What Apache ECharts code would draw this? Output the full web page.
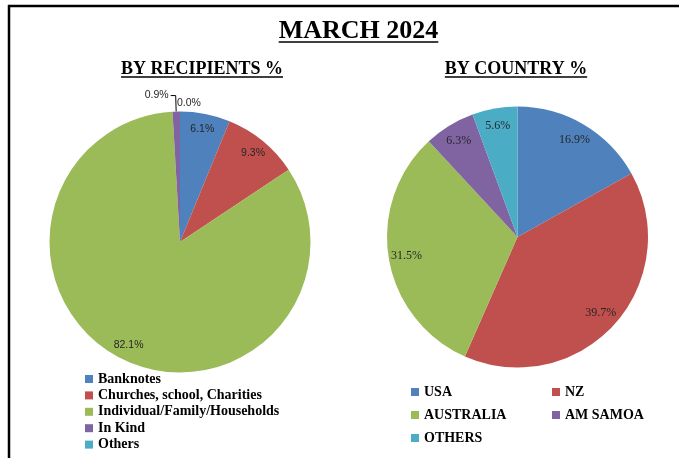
<!DOCTYPE html>
<html>
<head>
<meta charset="utf-8">
<script src="https://cdn.jsdelivr.net/npm/echarts@6/dist/echarts.min.js"></script>
<style>
  html, body { margin: 0; padding: 0; background: #fff; }
  #main { width: 679px; height: 458px; }
</style>
</head>
<body>
<div id="main"></div>
<script>
  // data
  const recipientNames = ['Banknotes', 'Churches, school, Charities', 'Individual/Family/Households', 'In Kind', 'Others'];
  const recipientValues = [6.1, 9.3, 82.1, 0.9, 0.0];
  const countryNames = ['USA', 'NZ', 'AUSTRALIA', 'AM SAMOA', 'OTHERS'];
  const countryValues = [16.9, 39.7, 31.5, 6.3, 5.6];
  const sliceColors = ['#4F81BD', '#C0504D', '#9BBB59', '#8064A2', '#4BACC6'];

  const serif = '"Liberation Serif", "DejaVu Serif", serif';
  const sans = '"Liberation Sans", Arial, sans-serif';

  // measure text width so underline fits the heading
  const measureCtx = document.createElement('canvas').getContext('2d');
  function textWidth (txt, size) {
    measureCtx.font = 'bold ' + size + 'px ' + serif;
    return measureCtx.measureText(txt).width;
  }

  function heading (txt, cx, baseY, size, lineY) {
    let w = textWidth(txt, size);
    return [{
      type: 'text',
      left: cx - w / 2,
      top: baseY - size * 0.75,
      style: { text: txt, font: 'bold ' + size + 'px ' + serif, fill: '#000' }
    }, {
      type: 'line',
      shape: { x1: cx - w / 2, y1: lineY, x2: cx + w / 2, y2: lineY },
      style: { stroke: '#000', lineWidth: 1.5 }
    }];
  }

  let pieR = 130.5;
  let leftCenter = [180, 242];
  let rightCenter = [517.5, 237];

  function pieData (names, values) {
    return names.map(function (n, i) {
      return { name: n, value: values[i], itemStyle: { color: sliceColors[i] } };
    });
  }

  // label ring (transparent) so inside labels sit near the rim
  function labelRing (names, values, center, inner, family, size, smallOutside) {
    return {
      type: 'pie',
      center: center,
      radius: [pieR * inner, pieR],
      startAngle: 90,
      silent: true,
      avoidLabelOverlap: false,
      emphasis: { disabled: true },
      itemStyle: { color: 'rgba(0,0,0,0)' },
      labelLine: { show: false },
      label: {
        show: true,
        position: 'inside',
        fontFamily: family,
        fontSize: size,
        color: '#262626',
        formatter: function (p) { return values[p.dataIndex].toFixed(1) + '%'; }
      },
      // zero slice label sits to the right of the leader line
      labelLayout: function (p) {
        if (smallOutside && values[p.dataIndex] === 0) {
          return { dx: 25, dy: -2 };
        }
      },
      data: names.map(function (n, i) {
        // zero slices get a hair of angle so their label is still laid out
        let item = { name: 'lbl-' + n, value: values[i] > 0 ? values[i] : 0.01 };
        if (smallOutside && values[i] < 2) {
          item.label = { position: 'outside', distanceToLabelLine: 2 };
          if (values[i] > 0) {
            item.labelLine = { show: true, length: 16, length2: 5, lineStyle: { color: '#000', width: 1 } };
          } else {
            item.labelLine = { show: false, length: 6, length2: 2 };
          }
        }
        return item;
      })
    };
  }

  let legendText = { fontFamily: serif, fontWeight: 'bold', fontSize: 14, color: '#000' };

  let chart = echarts.init(document.getElementById('main'));
  chart.setOption({
    animation: false,
    backgroundColor: '#fff',
    graphic: [
      { type: 'line', shape: { x1: 8, y1: 6, x2: 679, y2: 6 }, style: { stroke: '#000', lineWidth: 2.5 } },
      { type: 'line', shape: { x1: 9, y1: 5, x2: 9, y2: 458 }, style: { stroke: '#000', lineWidth: 2.5 } }
    ]
      .concat(heading('MARCH 2024', 358.5, 38, 26, 42))
      .concat(heading('BY RECIPIENTS %', 202, 74, 18, 77))
      .concat(heading('BY COUNTRY %', 516, 74, 18, 77)),
    legend: [{
      orient: 'vertical',
      left: 85,
      top: 372,
      padding: 0,
      itemWidth: 8,
      itemHeight: 8,
      itemGap: 2.4,
      icon: 'rect',
      selectedMode: false,
      textStyle: legendText,
      data: recipientNames
    }, {
      orient: 'vertical',
      left: 411,
      top: 385,
      padding: 0,
      itemWidth: 8,
      itemHeight: 8,
      itemGap: 9,
      icon: 'rect',
      selectedMode: false,
      textStyle: legendText,
      data: [countryNames[0], countryNames[2], countryNames[4]]
    }, {
      orient: 'vertical',
      left: 552,
      top: 385,
      padding: 0,
      itemWidth: 8,
      itemHeight: 8,
      itemGap: 9,
      icon: 'rect',
      selectedMode: false,
      textStyle: legendText,
      data: [countryNames[1], countryNames[3]]
    }],
    series: [{
      name: 'recipients',
      type: 'pie',
      center: leftCenter,
      radius: pieR,
      startAngle: 90,
      label: { show: false },
      labelLine: { show: false },
      emphasis: { disabled: true },
      data: pieData(recipientNames, recipientValues)
    },
    labelRing(recipientNames, recipientValues, leftCenter, 0.72, sans, 10.5, true),
    {
      name: 'country',
      type: 'pie',
      center: rightCenter,
      radius: pieR,
      startAngle: 90,
      label: { show: false },
      labelLine: { show: false },
      emphasis: { disabled: true },
      data: pieData(countryNames, countryValues)
    },
    labelRing(countryNames, countryValues, rightCenter, 0.68, serif, 12, false)]
  });
</script>
</body>
</html>
